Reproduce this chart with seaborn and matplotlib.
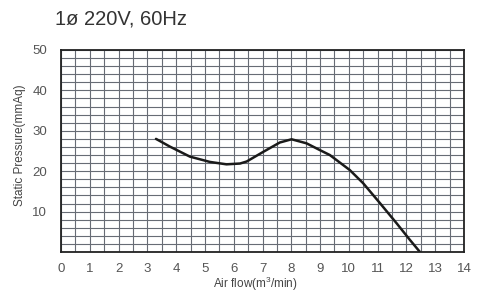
import matplotlib
matplotlib.use("Agg")
import matplotlib.pyplot as plt
import seaborn as sns
import pandas as pd
import numpy as np

# Data
air_flow = [3.3, 3.78, 4.48, 5.17, 5.75, 6.22, 6.45, 7.03, 7.6, 8.01, 8.53, 9.0, 9.34, 10.03, 10.5, 11.08, 11.66, 12.12, 12.47]
pressure = [28.0, 26.1, 23.6, 22.3, 21.7, 21.9, 22.4, 24.8, 27.1, 27.9, 26.9, 25.2, 24.0, 20.3, 17.0, 12.1, 7.1, 3.0, 0.0]
x_ticks = list(range(0, 15))
y_ticks = [10, 20, 30, 40, 50]
title = "1ø 220V, 60Hz"
x_label = "Air flow(m$^3$/min)"
y_label = "Static Pressure(mmAq)"

sns.set_style("white")
plt.rcParams['font.family'] = ['Liberation Sans', 'DejaVu Sans']
plt.rcParams['mathtext.fontset'] = 'custom'
plt.rcParams['mathtext.rm'] = 'Liberation Sans'

fig = plt.figure(figsize=(4.83, 2.93), dpi=100)
ax = fig.add_axes([61/483, 1-252/293, (464-61)/483, (252-50)/293])

df = pd.DataFrame({"x": air_flow, "y": pressure})
sns.lineplot(data=df, x="x", y="y", ax=ax, color="#1a1a1a", linewidth=1.8, sort=False)

ax.set_xlim(0, 14)
ax.set_ylim(0, 50)
ax.set_xticks(np.arange(0, 14.01, 0.5), minor=True)
ax.set_yticks(np.arange(0, 50.01, 2), minor=True)
ax.grid(which="minor", color="#676c75", linewidth=0.8)
ax.grid(which="major", color="#676c75", linewidth=0.8)
ax.set_xticks(x_ticks)
ax.set_xticklabels([str(v) for v in x_ticks])
ax.set_yticks(y_ticks)
ax.set_yticklabels([str(v) for v in y_ticks])
ax.tick_params(which="both", length=0, labelsize=9.5, colors="#555555")
ax.tick_params(axis="x", pad=8)
ax.tick_params(axis="y", pad=10)
for s in ax.spines.values():
    s.set_visible(True)
    s.set_color("#222222")
    s.set_linewidth(1.3)

ax.set_xlabel("")
ax.set_ylabel("")
fig.text(255/483, 1-284/293, x_label, fontsize=8.5, color="#444444", ha="center", va="center")
fig.text(20/483, 1-145/293, y_label, fontsize=8.5, color="#444444", ha="center", va="center", rotation=90)

fig.text(55/483, 1-19/293, title, fontsize=14.5, color="#333333", va="center", ha="left")

fig.savefig("out.png", dpi=100)
